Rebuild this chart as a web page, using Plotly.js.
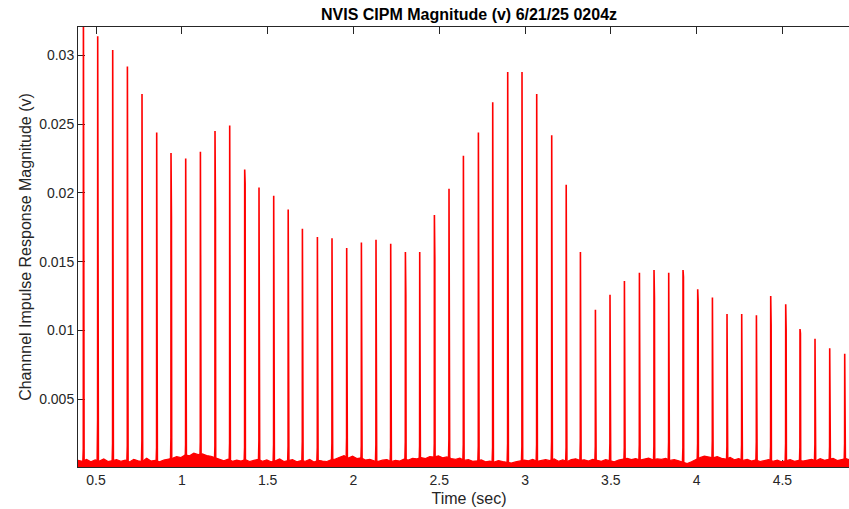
<!DOCTYPE html>
<html>
<head>
<meta charset="utf-8">
<script src="https://cdn.plot.ly/plotly-3.0.1.min.js"></script>
<style>
html,body{margin:0;padding:0;overflow:hidden;background:#fff;}
#chart{width:861px;height:509px;}
</style>
</head>
<body>
<div id="chart"></div>
<script>
// Pulse arrival times (sec)
const spikeTimes = [0.4265,0.5098,0.5972,0.6829,0.7680,0.8536,0.9370,1.0226,1.1083,1.1934,
  1.2790,1.3664,1.4498,1.5354,1.6199,1.7027,1.7901,1.8752,1.9608,2.0465,
  2.1316,2.2172,2.3029,2.3863,2.4719,2.5570,2.6409,2.7283,2.8117,2.8991,
  2.9824,3.0681,3.1555,3.2400,3.3228,3.4102,3.4952,3.5792,3.6666,3.7517,
  3.8373,3.9207,4.0063,4.0920,4.1771,4.2627,4.3484,4.4317,4.5191,4.6024,
  4.6898,4.7755,4.8629];
// Peak magnitude of each pulse (v)
const spikePeaks = [0.0340,0.0314,0.0304,0.0292,0.0272,0.0244,0.0229,0.0225,0.0230,0.0245,
  0.0249,0.0217,0.0204,0.0198,0.0188,0.0174,0.0168,0.0167,0.0160,0.0164,
  0.0166,0.0163,0.0157,0.0157,0.0184,0.0203,0.0227,0.0244,0.0266,0.0288,
  0.0288,0.0272,0.0242,0.0206,0.0157,0.0115,0.0126,0.0136,0.0142,0.0144,
  0.0142,0.0144,0.0130,0.0124,0.0112,0.0112,0.0111,0.0125,0.0119,0.0101,
  0.0094,0.0087,0.0083];
// Neighbouring sample of each pulse (v)
const spikeSecond = [0.0125,0.0122,0.0030,0.0145,0.0035,0.0030,0.0183,0.0040,0.0035,0.0189,
  0.0045,0.0207,0.0133,0.0040,0.0035,0.0030,0.0035,0.0030,0.0030,0.0035,
  0.0030,0.0030,0.0126,0.0035,0.0152,0.0139,0.0131,0.0115,0.0114,0.0040,
  0.0112,0.0040,0.0115,0.0119,0.0040,0.0035,0.0030,0.0035,0.0030,0.0124,
  0.0035,0.0139,0.0121,0.0035,0.0030,0.0030,0.0030,0.0104,0.0101,0.0098,
  0.0030,0.0030,0.0030];
// Leading sample (pulse foot) (v)
const spikeFoot = [0.0014,0.0035,0.0018,0.0016,0.0020,0.0015,0.0022,0.0017,0.0019,0.0016,
  0.0018,0.0015,0.0020,0.0017,0.0016,0.0019,0.0015,0.0018,0.0022,0.0016,
  0.0017,0.0015,0.0019,0.0016,0.0018,0.0021,0.0017,0.0016,0.0015,0.0018,
  0.0016,0.0017,0.0019,0.0015,0.0020,0.0016,0.0018,0.0015,0.0017,0.0016,
  0.0019,0.0015,0.0018,0.0020,0.0016,0.0017,0.0019,0.0016,0.0018,0.0015,
  0.0017,0.0016,0.0018];
const spikeBase = 0.0004;
// Noise floor, sampled every 0.025 s from 0.395 s (v)
const noiseStart = 0.395, noiseStep = 0.025;
const noiseFloor = [
  0.00055,0.00048,0.00062,0.00045,0.00058,0.00050,0.00066,0.00047,0.00053,0.00060,
  0.00049,0.00057,0.00044,0.00063,0.00052,0.00047,0.00071,0.00050,0.00056,0.00045,
  0.00058,0.00062,0.00070,0.00082,0.00076,0.00095,0.00088,0.00108,0.00097,0.00102,
  0.00090,0.00085,0.00072,0.00060,0.00052,0.00064,0.00048,0.00057,0.00050,0.00061,
  0.00046,0.00055,0.00063,0.00049,0.00058,0.00044,0.00052,0.00066,0.00047,0.00054,
  0.00060,0.00045,0.00053,0.00049,0.00062,0.00043,0.00056,0.00050,0.00047,0.00059,
  0.00065,0.00078,0.00090,0.00072,0.00085,0.00068,0.00074,0.00058,0.00063,0.00052,
  0.00048,0.00057,0.00061,0.00046,0.00055,0.00050,0.00064,0.00058,0.00070,0.00066,
  0.00075,0.00068,0.00082,0.00079,0.00088,0.00074,0.00080,0.00069,0.00062,0.00071,
  0.00055,0.00060,0.00048,0.00052,0.00058,0.00045,0.00050,0.00043,0.00054,0.00047,
  0.00040,0.00036,0.00044,0.00050,0.00057,0.00052,0.00062,0.00048,0.00055,0.00060,
  0.00053,0.00065,0.00049,0.00058,0.00046,0.00061,0.00067,0.00055,0.00059,0.00050,
  0.00063,0.00056,0.00048,0.00060,0.00052,0.00045,0.00058,0.00066,0.00070,0.00061,
  0.00068,0.00057,0.00064,0.00072,0.00059,0.00066,0.00062,0.00069,0.00055,0.00060,
  0.00052,0.00040,0.00032,0.00045,0.00062,0.00075,0.00086,0.00080,0.00074,0.00083,
  0.00070,0.00065,0.00076,0.00060,0.00068,0.00055,0.00062,0.00050,0.00058,0.00046,
  0.00054,0.00061,0.00049,0.00057,0.00045,0.00052,0.00060,0.00048,0.00055,0.00050,
  0.00058,0.00063,0.00052,0.00067,0.00056,0.00061,0.00070,0.00054,0.00062,0.00068,
  0.00057,0.00064,0.00059];
const xTicks = [0.5,1,1.5,2,2.5,3,3.5,4,4.5];
const xTickText = ['0.5','1','1.5','2','2.5','3','3.5','4','4.5'];
const yTicks = [0.005,0.01,0.015,0.02,0.025,0.03];
const yTickText = ['0.005','0.01','0.015','0.02','0.025','0.03'];

const noiseX = noiseFloor.map((v,i)=>noiseStart + i*noiseStep);

const sx = [], sy = [];
spikeTimes.forEach((t,k)=>{
  sx.push(t-0.003, t-0.0006, t, t+0.0025, t+0.004, null);
  sy.push(spikeBase, spikeFoot[k], spikePeaks[k], spikeSecond[k], spikeBase, null);
});

const red = '#ff0000';
const axisCol = '#262626';
const traces = [
  {x: noiseX, y: noiseFloor, type:'scatter', mode:'lines', fill:'tozeroy',
   fillcolor: red, line:{color: red, width:1.2}, hoverinfo:'skip'},
  {x: sx, y: sy, type:'scatter', mode:'lines', connectgaps:false,
   line:{color: red, width:1.6}, hoverinfo:'skip'}
];

const font = 'Liberation Sans, Arial, Helvetica, sans-serif';
const layout = {
  width: 861, height: 509,
  margin: {l:78, r:1, t:27, b:42},
  paper_bgcolor:'#fff', plot_bgcolor:'#fff',
  showlegend:false,
  font:{family: font, color: axisCol, size:14},
  title:{text:'<b>NVIS CIPM Magnitude (v) 6/21/25 0204z</b>', font:{family: font, size:16, color:'#000'},
         x:0.5, xref:'paper', xanchor:'center', y:1-14.5/509, yref:'container', yanchor:'middle'},
  xaxis:{range:[0.395,4.952], tickvals:xTicks, ticktext:xTickText,
         ticks:'inside', ticklen:7, tickwidth:1, tickcolor:axisCol,
         showline:true, linecolor:axisCol, linewidth:1, mirror:'ticks',
         showgrid:false, zeroline:false, layer:'below traces',
         tickfont:{size:14, color:axisCol},
         title:{text:'Time (sec)', font:{size:16, color:axisCol}, standoff:6}},
  yaxis:{range:[0.00007,0.03207], tickvals:yTicks, ticktext:yTickText,
         ticks:'inside', ticklen:7, tickwidth:1, tickcolor:axisCol,
         showline:true, linecolor:axisCol, linewidth:1, mirror:'ticks',
         showgrid:false, zeroline:false, layer:'below traces',
         tickfont:{size:14, color:axisCol},
         title:{text:'Channnel Impulse Response Magnitude (v)', font:{size:16, color:axisCol}, standoff:3}}
};
Plotly.newPlot('chart', traces, layout, {staticPlot:true, displayModeBar:false});
</script>
</body>
</html>
